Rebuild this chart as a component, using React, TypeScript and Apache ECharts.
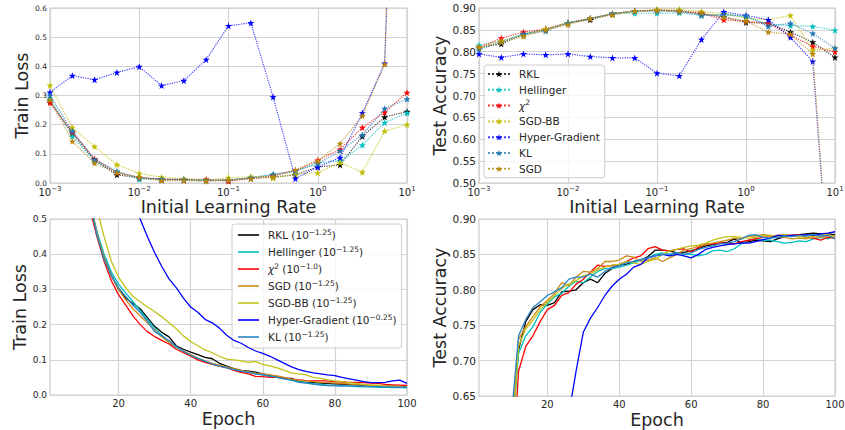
import React, { useEffect, useRef } from 'react';
import * as echarts from 'echarts';

// ---------- Top row: sweep over initial learning rate ----------
const learningRates = [0.001, 0.00178, 0.00316, 0.00562, 0.01, 0.0178, 0.0316, 0.0562, 0.1, 0.178, 0.316, 0.562, 1, 1.78, 3.16, 5.62, 10];

const methods = ['RKL', 'Hellinger', 'χ²', 'SGD-BB', 'Hyper-Gradient', 'KL', 'SGD'];
const methodColors = ['#000000', '#00bfbf', '#ff0000', '#bfbf00', '#0000ff', '#1f77b4', '#b8860b'];

const lossRKL = [0.28, 0.17, 0.078, 0.028, 0.018, 0.012, 0.011, 0.009, 0.01, 0.016, 0.02, 0.028, 0.055, 0.062, 0.16, 0.226, 0.245];
const lossHellinger = [0.29, 0.16, 0.075, 0.038, 0.013, 0.011, 0.01, 0.009, 0.01, 0.017, 0.028, 0.04, 0.07, 0.075, 0.13, 0.207, 0.24];
const lossChi2 = [0.275, 0.175, 0.083, 0.035, 0.018, 0.013, 0.012, 0.013, 0.006, 0.016, 0.025, 0.043, 0.078, 0.115, 0.19, 0.242, 0.31];
const lossSGDBB = [0.335, 0.19, 0.125, 0.063, 0.033, 0.02, 0.015, 0.01, 0.018, 0.022, 0.017, 0.03, 0.035, 0.07, 0.037, 0.178, 0.2];
const lossHyper = [0.311, 0.368, 0.354, 0.379, 0.399, 0.334, 0.351, 0.423, 0.539, 0.549, 0.295, 0.015, 0.055, 0.087, 0.24, 0.41, 2.5];
const lossKL = [0.3, 0.178, 0.08, 0.04, 0.018, 0.014, 0.012, 0.009, 0.01, 0.018, 0.03, 0.042, 0.065, 0.11, 0.165, 0.255, 0.288];
const lossSGD = [0.285, 0.143, 0.068, 0.035, 0.02, 0.008, 0.008, 0.006, 0.01, 0.015, 0.022, 0.045, 0.075, 0.135, 0.23, 0.407, 3.0];

const accRKL = [0.81, 0.818, 0.84, 0.852, 0.866, 0.873, 0.887, 0.893, 0.895, 0.893, 0.886, 0.88, 0.867, 0.865, 0.845, 0.822, 0.787];
const accHellinger = [0.815, 0.825, 0.84, 0.85, 0.866, 0.876, 0.887, 0.888, 0.888, 0.889, 0.883, 0.885, 0.88, 0.863, 0.86, 0.858, 0.849];
const accChi2 = [0.81, 0.831, 0.845, 0.852, 0.866, 0.876, 0.887, 0.893, 0.895, 0.893, 0.888, 0.873, 0.87, 0.865, 0.838, 0.812, 0.8];
const accSGDBB = [0.81, 0.825, 0.838, 0.852, 0.866, 0.876, 0.887, 0.893, 0.897, 0.897, 0.892, 0.887, 0.877, 0.873, 0.883, 0.803, 0.808];
const accHyper = [0.795, 0.787, 0.795, 0.793, 0.795, 0.789, 0.786, 0.786, 0.751, 0.745, 0.828, 0.891, 0.883, 0.873, 0.833, 0.778, 0.1];
const accKL = [0.805, 0.822, 0.84, 0.847, 0.866, 0.876, 0.887, 0.893, 0.893, 0.893, 0.883, 0.885, 0.882, 0.858, 0.865, 0.842, 0.808];
const accSGD = [0.81, 0.822, 0.835, 0.85, 0.862, 0.876, 0.884, 0.893, 0.894, 0.893, 0.89, 0.878, 0.87, 0.845, 0.84, 0.795, 0.1];

const topLoss = [lossRKL, lossHellinger, lossChi2, lossSGDBB, lossHyper, lossKL, lossSGD];
const topAcc = [accRKL, accHellinger, accChi2, accSGDBB, accHyper, accKL, accSGD];

// ---------- Bottom row: training curves at best learning rate ----------
const epochs = [2, 4, 6, 8, 10, 12, 14, 16, 18, 20,
  22, 24, 26, 28, 30, 32, 34, 36, 38, 40,
  42, 44, 46, 48, 50, 52, 54, 56, 58, 60,
  62, 64, 66, 68, 70, 72, 74, 76, 78, 80,
  82, 84, 86, 88, 90, 92, 94, 96, 98, 100];

const curveMethods = ['RKL', 'Hellinger', 'χ²', 'SGD', 'SGD-BB', 'Hyper-Gradient', 'KL'];
const curveRates = ['−1.25', '−1.25', '−1.0', '−1.25', '−1.25', '−0.25', '−1.25'];
const curveColors = ['#000000', '#00bfbf', '#ff0000', '#cc8a1a', '#c2c21a', '#0000ff', '#2a84c4'];

const epLossRKL = [1.9, 1.4, 1.05, 0.82, 0.66, 0.55, 0.46, 0.39, 0.34, 0.30,
  0.275, 0.26, 0.245, 0.22, 0.195, 0.178, 0.165, 0.14, 0.13, 0.122,
  0.115, 0.107, 0.103, 0.09, 0.082, 0.075, 0.07, 0.068, 0.065, 0.06,
  0.056, 0.052, 0.048, 0.047, 0.038, 0.036, 0.035, 0.034, 0.033, 0.032,
  0.031, 0.03, 0.029, 0.027, 0.026, 0.026, 0.025, 0.025, 0.024, 0.025];
const epLossHellinger = [1.95, 1.45, 1.08, 0.84, 0.67, 0.555, 0.465, 0.40, 0.35, 0.315,
  0.29, 0.265, 0.24, 0.215, 0.19, 0.17, 0.15, 0.135, 0.124, 0.113,
  0.103, 0.095, 0.088, 0.082, 0.077, 0.072, 0.067, 0.064, 0.06, 0.057,
  0.053, 0.05, 0.046, 0.042, 0.038, 0.035, 0.032, 0.03, 0.028, 0.027,
  0.026, 0.025, 0.024, 0.023, 0.023, 0.022, 0.022, 0.021, 0.021, 0.02];
const epLossChi2 = [1.85, 1.38, 1.02, 0.8, 0.64, 0.53, 0.45, 0.38, 0.325, 0.285,
  0.255, 0.225, 0.2, 0.18, 0.166, 0.155, 0.145, 0.13, 0.12, 0.11,
  0.1, 0.093, 0.087, 0.082, 0.078, 0.07, 0.064, 0.06, 0.053, 0.052,
  0.05, 0.05, 0.048, 0.045, 0.043, 0.041, 0.04, 0.04, 0.04, 0.038,
  0.037, 0.036, 0.036, 0.035, 0.034, 0.033, 0.03, 0.029, 0.028, 0.027];
const epLossSGD = [1.9, 1.42, 1.05, 0.82, 0.66, 0.55, 0.46, 0.39, 0.34, 0.3,
  0.27, 0.245, 0.225, 0.205, 0.185, 0.165, 0.15, 0.137, 0.125, 0.115,
  0.105, 0.097, 0.09, 0.085, 0.08, 0.075, 0.07, 0.066, 0.062, 0.06,
  0.057, 0.054, 0.05, 0.045, 0.042, 0.04, 0.038, 0.036, 0.035, 0.034,
  0.033, 0.031, 0.03, 0.028, 0.027, 0.026, 0.025, 0.024, 0.023, 0.022];
const epLossSGDBB = [2.0, 1.55, 1.2, 0.95, 0.76, 0.62, 0.53, 0.45, 0.38, 0.335,
  0.305, 0.28, 0.265, 0.25, 0.237, 0.222, 0.205, 0.188, 0.168, 0.152,
  0.14, 0.128, 0.12, 0.11, 0.102, 0.1, 0.097, 0.093, 0.095, 0.087,
  0.083, 0.077, 0.07, 0.062, 0.06, 0.057, 0.05, 0.047, 0.043, 0.04,
  0.038, 0.035, 0.033, 0.03, 0.029, 0.028, 0.026, 0.025, 0.024, 0.022];
const epLossHyper = [2.2, 1.85, 1.55, 1.32, 1.15, 1.0, 0.89, 0.79, 0.71, 0.64,
  0.585, 0.54, 0.5, 0.45, 0.405, 0.365, 0.33, 0.305, 0.275, 0.25,
  0.235, 0.215, 0.205, 0.19, 0.17, 0.155, 0.147, 0.135, 0.125, 0.118,
  0.11, 0.1, 0.09, 0.08, 0.072, 0.067, 0.063, 0.06, 0.057, 0.055,
  0.05, 0.046, 0.042, 0.038, 0.035, 0.035, 0.036, 0.04, 0.042, 0.033];
const epLossKL = [1.88, 1.4, 1.04, 0.81, 0.65, 0.545, 0.455, 0.385, 0.34, 0.305,
  0.28, 0.255, 0.235, 0.21, 0.18, 0.168, 0.155, 0.138, 0.125, 0.113,
  0.104, 0.096, 0.088, 0.082, 0.078, 0.072, 0.068, 0.064, 0.06, 0.057,
  0.054, 0.05, 0.046, 0.042, 0.036, 0.034, 0.031, 0.028, 0.027, 0.027,
  0.026, 0.026, 0.025, 0.025, 0.024, 0.024, 0.023, 0.023, 0.022, 0.022];

const epAccRKL = [0.15, 0.3, 0.42, 0.52, 0.6, 0.715, 0.755, 0.772, 0.779, 0.778,
  0.782, 0.797, 0.798, 0.8, 0.81, 0.815, 0.81, 0.823, 0.83, 0.835,
  0.836, 0.84, 0.842, 0.847, 0.856, 0.856, 0.855, 0.852, 0.853, 0.855,
  0.858, 0.862, 0.864, 0.866, 0.867, 0.872, 0.866, 0.868, 0.87, 0.869,
  0.868, 0.872, 0.875, 0.877, 0.878, 0.879, 0.88, 0.879, 0.879, 0.878];
const epAccHellinger = [0.14, 0.28, 0.4, 0.5, 0.58, 0.71, 0.735, 0.748, 0.768, 0.78,
  0.79, 0.795, 0.805, 0.812, 0.81, 0.818, 0.826, 0.83, 0.83, 0.832,
  0.835, 0.838, 0.842, 0.845, 0.85, 0.852, 0.85, 0.852, 0.85, 0.85,
  0.848, 0.85, 0.855, 0.856, 0.854, 0.858, 0.865, 0.87, 0.872, 0.87,
  0.87, 0.868, 0.866, 0.867, 0.869, 0.868, 0.872, 0.874, 0.872, 0.876];
const epAccChi2 = [0.12, 0.25, 0.36, 0.45, 0.52, 0.685, 0.72, 0.735, 0.755, 0.772,
  0.778, 0.792, 0.796, 0.808, 0.815, 0.825, 0.835, 0.833, 0.834, 0.836,
  0.84, 0.845, 0.848, 0.858, 0.861, 0.856, 0.855, 0.857, 0.858, 0.853,
  0.86, 0.864, 0.865, 0.866, 0.866, 0.865, 0.868, 0.87, 0.872, 0.874,
  0.875, 0.877, 0.878, 0.877, 0.878, 0.874, 0.873, 0.87, 0.874, 0.873];
const epAccSGD = [0.15, 0.3, 0.42, 0.52, 0.6, 0.73, 0.748, 0.762, 0.776, 0.785,
  0.795, 0.81, 0.806, 0.818, 0.826, 0.825, 0.83, 0.84, 0.84, 0.842,
  0.848, 0.846, 0.84, 0.842, 0.845, 0.84, 0.845, 0.85, 0.856, 0.858,
  0.862, 0.864, 0.866, 0.868, 0.87, 0.873, 0.872, 0.876, 0.876, 0.878,
  0.877, 0.876, 0.874, 0.872, 0.873, 0.872, 0.875, 0.874, 0.876, 0.877];
const epAccSGDBB = [0.14, 0.28, 0.4, 0.5, 0.58, 0.72, 0.745, 0.757, 0.772, 0.782,
  0.792, 0.802, 0.808, 0.813, 0.82, 0.822, 0.828, 0.832, 0.835, 0.836,
  0.84, 0.838, 0.836, 0.84, 0.843, 0.85, 0.855, 0.857, 0.86, 0.862,
  0.863, 0.866, 0.87, 0.873, 0.875, 0.875, 0.874, 0.873, 0.874, 0.877,
  0.876, 0.877, 0.878, 0.876, 0.875, 0.874, 0.876, 0.877, 0.878, 0.875];
const epAccHyper = [0.1, 0.1, 0.12, 0.15, 0.2, 0.27, 0.34, 0.4, 0.45, 0.5,
  0.55, 0.59, 0.625, 0.685, 0.74, 0.76, 0.775, 0.792, 0.805, 0.815,
  0.822, 0.832, 0.836, 0.845, 0.848, 0.85, 0.848, 0.85, 0.848, 0.845,
  0.85, 0.857, 0.86, 0.862, 0.864, 0.865, 0.866, 0.866, 0.868, 0.871,
  0.873, 0.877, 0.876, 0.877, 0.877, 0.878, 0.877, 0.879, 0.88, 0.882];
const epAccKL = [0.15, 0.3, 0.42, 0.52, 0.62, 0.735, 0.758, 0.775, 0.783, 0.792,
  0.797, 0.803, 0.815, 0.818, 0.818, 0.822, 0.818, 0.826, 0.832, 0.834,
  0.838, 0.84, 0.843, 0.845, 0.848, 0.85, 0.85, 0.852, 0.85, 0.852,
  0.857, 0.86, 0.862, 0.865, 0.866, 0.868, 0.872, 0.877, 0.878, 0.874,
  0.873, 0.874, 0.876, 0.875, 0.877, 0.876, 0.878, 0.876, 0.877, 0.872];

const curveLoss = [epLossRKL, epLossHellinger, epLossChi2, epLossSGD, epLossSGDBB, epLossHyper, epLossKL];
const curveAcc = [epAccRKL, epAccHellinger, epAccChi2, epAccSGD, epAccSGDBB, epAccHyper, epAccKL];

const epochTicks = [20, 40, 60, 80, 100];

// ---------- styling ----------
const FONT = 'DejaVu Sans';
const GRID = '#d3d3d3';
const TEXT = '#262626';
const STAR = 'path://M0,-10L2.35,-3.24L9.51,-3.09L3.8,1.24L5.88,8.09L0,4L-5.88,8.09L-3.8,1.24L-9.51,-3.09L-2.35,-3.24Z';

const legendRich = {
  t: { fontFamily: FONT, fontSize: 10.5, lineHeight: 14, color: TEXT },
  i: { fontFamily: FONT, fontSize: 10.5, lineHeight: 14, color: TEXT, fontStyle: 'italic' },
  s: { fontFamily: FONT, fontSize: 7.5, lineHeight: 8, color: TEXT, verticalAlign: 'top' },
};

function richName(name: string): string {
  const m = name.match(/^(.*) \(10\^(.*)\)$/);
  const base = m ? m[1] : name;
  const head = base === 'χ²' ? '{i|χ}{s|2}' : `{t|${base}}`;
  return m ? `${head}{t| (10}{s|${m[2]}}{t|)}` : head;
}

const curveNames = curveMethods.map((m, i) => `${m} (10^${curveRates[i]})`);

function logLabel(v: number): string {
  const e = Math.round(Math.log10(v));
  return `{b|10}{s|${e < 0 ? '\u2212' + -e : e}}`;
}

const logRich = {
  b: { fontFamily: FONT, fontSize: 10, lineHeight: 14, color: TEXT },
  s: { fontFamily: FONT, fontSize: 7, lineHeight: 7, color: TEXT, verticalAlign: 'top' },
};

const nameStyle = { fontFamily: FONT, fontSize: 17.5, color: TEXT };

function splitLine() {
  return { show: true, lineStyle: { color: GRID, width: 1.2 } };
}

function logXAxis(gridIndex: number) {
  return {
    gridIndex, type: 'log', logBase: 10, min: 0.001, max: 10,
    axisLine: { show: false }, axisTick: { show: false }, splitLine: splitLine(),
    axisLabel: { formatter: logLabel, margin: 2, rich: logRich },
    name: 'Initial Learning Rate', nameLocation: 'middle', nameGap: 14, nameTextStyle: nameStyle,
  };
}

function epochXAxis(gridIndex: number) {
  return {
    gridIndex, type: 'value', min: 1, max: 100,
    axisLine: { show: false },
    axisTick: { show: false, customValues: epochTicks },
    splitLine: splitLine(),
    axisLabel: { customValues: epochTicks, margin: 3, fontFamily: FONT, fontSize: 10, color: TEXT },
    name: 'Epoch', nameLocation: 'middle', nameGap: 15, nameTextStyle: nameStyle,
  };
}

function yAxis(gridIndex: number, min: number, max: number, interval: number, digits: number, fontSize: number, name: string, nameGap: number) {
  return {
    gridIndex, type: 'value', min, max, interval,
    axisLine: { show: false }, axisTick: { show: false }, splitLine: splitLine(),
    axisLabel: { formatter: (v: number) => v.toFixed(digits), margin: 3, fontFamily: FONT, fontSize, color: TEXT },
    name, nameLocation: 'middle', nameGap, nameTextStyle: nameStyle,
  };
}

export default function App() {
  const ref = useRef<HTMLDivElement>(null);

  useEffect(() => {
    document.body.style.margin = '0';
    if (!ref.current) return;
    const chart = echarts.init(ref.current, undefined, { renderer: 'svg' });

    const series: any[] = [];
    methods.forEach((m, i) => {
      [topLoss, topAcc].forEach((set, k) => {
        series.push({
          name: m, type: 'line', xAxisIndex: k, yAxisIndex: k,
          data: learningRates.map((x, j) => [x, set[i][j]]),
          symbol: STAR, symbolSize: 7, showSymbol: true,
          lineStyle: { color: methodColors[i], width: 1.2, type: 'dotted', opacity: 0.75 },
          itemStyle: { color: methodColors[i] },
          emphasis: { disabled: true }, z: 2 + i,
        });
      });
    });
    curveNames.forEach((n, i) => {
      [curveLoss, curveAcc].forEach((set, k) => {
        series.push({
          name: n, type: 'line', xAxisIndex: 2 + k, yAxisIndex: 2 + k,
          data: epochs.map((e, j) => [e, set[i][j]]),
          symbol: 'none', showSymbol: false,
          lineStyle: { color: curveColors[i], width: 1.3 },
          itemStyle: { color: curveColors[i] },
          emphasis: { disabled: true }, z: 2 + i,
        });
      });
    });

    const gridBase = { show: true, borderColor: '#cccccc', borderWidth: 1.2, backgroundColor: 'transparent', containLabel: false, outerBoundsMode: 'none' };

    chart.setOption({
      animation: false,
      backgroundColor: '#ffffff',
      grid: [
        { ...gridBase, left: 50, top: 8, width: 357, height: 175 },
        { ...gridBase, left: 479, top: 8, width: 356, height: 175 },
        { ...gridBase, left: 50, top: 219, width: 357, height: 176 },
        { ...gridBase, left: 479, top: 219, width: 356, height: 177 },
      ],
      xAxis: [logXAxis(0), logXAxis(1), epochXAxis(2), epochXAxis(3)],
      yAxis: [
        yAxis(0, 0, 0.6, 0.1, 1, 7.5, 'Train Loss', 14),
        yAxis(1, 0.5, 0.9, 0.05, 2, 10.5, 'Test Accuracy', 25),
        yAxis(2, 0, 0.5, 0.1, 1, 9, 'Train Loss', 20),
        yAxis(3, 0.65, 0.9, 0.05, 2, 10.5, 'Test Accuracy', 28),
      ],
      legend: [
        {
          data: methods, orient: 'vertical', left: 484, top: 65,
          itemWidth: 22, itemHeight: 8, itemGap: 1.8, padding: [2, 5, 2, 3],
          backgroundColor: 'rgba(255,255,255,0.8)', borderColor: '#cccccc', borderWidth: 1, borderRadius: 3,
          textStyle: { fontFamily: FONT, fontSize: 10.5, color: TEXT, lineHeight: 14, padding: [0, 0, 0, 4], rich: legendRich },
          formatter: richName, selectedMode: false,
        },
        {
          data: curveNames, orient: 'vertical', left: 232, top: 224, icon: 'rect',
          itemWidth: 21, itemHeight: 1.6, itemGap: 3, padding: [4, 5, 4, 6],
          backgroundColor: 'rgba(255,255,255,0.8)', borderColor: '#cccccc', borderWidth: 1, borderRadius: 3,
          textStyle: { fontFamily: FONT, fontSize: 10.5, color: TEXT, lineHeight: 14, padding: [0, 0, 0, 4], rich: legendRich },
          formatter: richName, selectedMode: false,
        },
      ],
      series,
    });

    return () => chart.dispose();
  }, []);

  return <div ref={ref} style={{ width: 845, height: 430 }} />;
}
